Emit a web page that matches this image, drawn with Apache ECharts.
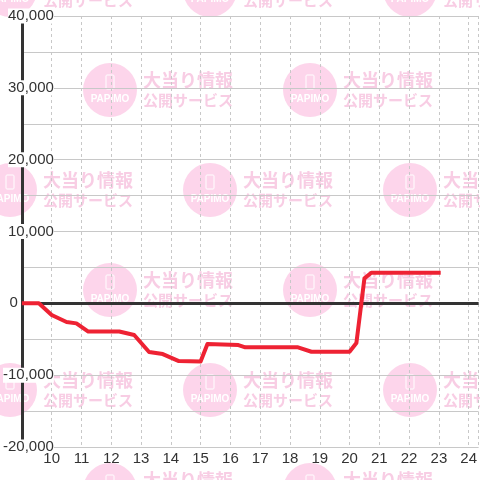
<!DOCTYPE html>
<html>
<head>
<meta charset="utf-8">
<script src="https://cdn.jsdelivr.net/npm/echarts@6/dist/echarts.min.js"></script>
<style>html,body{margin:0;padding:0;background:#fff}#c{width:480px;height:480px}</style>
</head>
<body>
<div id="c"></div>
<script>
// Data (hour of day, cumulative balance)
var hours  = [9, 9.57, 10.0, 10.5, 10.83, 11.23, 12.27, 12.77, 13.27, 13.73, 14.27, 15.0, 15.23, 16.27, 16.5, 18.27, 18.72, 20.0, 20.23, 20.5, 20.73, 23.06];
var values = [0, 0, -1630, -2600, -2790, -3930, -3930, -4400, -6780, -7060, -8040, -8100, -5670, -5810, -6130, -6130, -6740, -6740, -5530, 3480, 4250, 4250];
var xTicks = [10, 11, 12, 13, 14, 15, 16, 17, 18, 19, 20, 21, 22, 23, 24];
var yTicks = [-20000, -10000, 0, 10000, 20000, 30000, 40000];

var seriesData = hours.map(function (h, i) { return [h, values[i]]; });

// watermark decoration
var wm = [];
for (var k = 0; k < 6; k++) {
  var cy = -10 + 100 * k;
  var xs = (k % 2 === 0) ? [10, 210, 410] : [110, 310, 510];
  xs.forEach(function (cx) {
    wm.push({type: 'circle', z: -10, silent: true, shape: {cx: cx, cy: cy, r: 27}, style: {fill: '#fdd5eb'}});
    wm.push({type: 'rect', z: -10, silent: true, shape: {x: cx - 4, y: cy - 15, width: 8, height: 14, r: 1}, style: {fill: 'none', stroke: '#fff', lineWidth: 1}});
    wm.push({type: 'text', z: -10, silent: true, style: {x: cx, y: cy + 9, text: 'PAPIMO', fill: '#fff', font: 'bold 10px "Liberation Sans"', textAlign: 'center', textVerticalAlign: 'middle'}});
    wm.push({type: 'text', z: -10, silent: true, style: {x: cx + 33, y: cy - 10, text: '大当り情報', fill: '#f8cde4', font: 'bold 18px "Noto Sans CJK JP"', textAlign: 'left', textVerticalAlign: 'middle'}});
    wm.push({type: 'text', z: -10, silent: true, style: {x: cx + 33, y: cy + 10, text: '公開サービス', fill: '#f8cde4', font: 'bold 15px "Noto Sans CJK JP"', textAlign: 'left', textVerticalAlign: 'middle'}});
  });
}

var chart = echarts.init(document.getElementById('c'), null, {renderer: 'canvas'});
chart.setOption({
  backgroundColor: '#fff',
  animation: false,
  graphic: {elements: wm},
  grid: {left: 20, right: 0, top: 16, bottom: 33, containLabel: false},
  xAxis: {
    type: 'value', min: 9, max: 24.333, interval: 1,
    axisLine: {show: false},
    axisTick: {show: false},
    splitLine: {show: true, lineStyle: {color: '#c8c8c8', type: [3, 3], width: 1}},
    axisLabel: {
      margin: 4, fontSize: 15, color: '#333', fontFamily: 'Liberation Sans',
      showMaxLabel: false,
      formatter: function (v) { return xTicks.indexOf(v) >= 0 ? String(v) : ''; }
    }
  },
  yAxis: {
    type: 'value', min: -20000, max: 40000, interval: 5000,
    axisLine: {show: true, onZero: false, lineStyle: {color: '#333', width: 3}},
    axisTick: {show: false},
    splitLine: {show: true, lineStyle: {color: '#c8c8c8', width: 1}},
    axisLabel: {
      margin: -32, fontSize: 15, color: '#333', fontFamily: 'Liberation Sans',
      formatter: function (v) {
        if (yTicks.indexOf(v) < 0) return '';
        if (v === 0) return '{t|0}{sp|}';
        return '{t|' + v.toLocaleString('en-US') + '}';
      },
      rich: {
        t: {fontSize: 15, color: '#333', fontFamily: 'Liberation Sans', backgroundColor: '#fff'},
        sp: {width: 36}
      }
    }
  },
  series: [
    {
      type: 'line', z: 1, data: [], silent: true,
      markLine: {
        z: 1, silent: true, symbol: ['none', 'none'], label: {show: false},
        lineStyle: {color: '#333', width: 3, type: 'solid'},
        data: [{yAxis: 0}]
      }
    },
    {
      type: 'line', z: 6, data: seriesData, showSymbol: false, symbol: 'none',
      lineStyle: {color: '#ee2233', width: 4, join: 'round'}
    }
  ]
});
</script>
</body>
</html>
